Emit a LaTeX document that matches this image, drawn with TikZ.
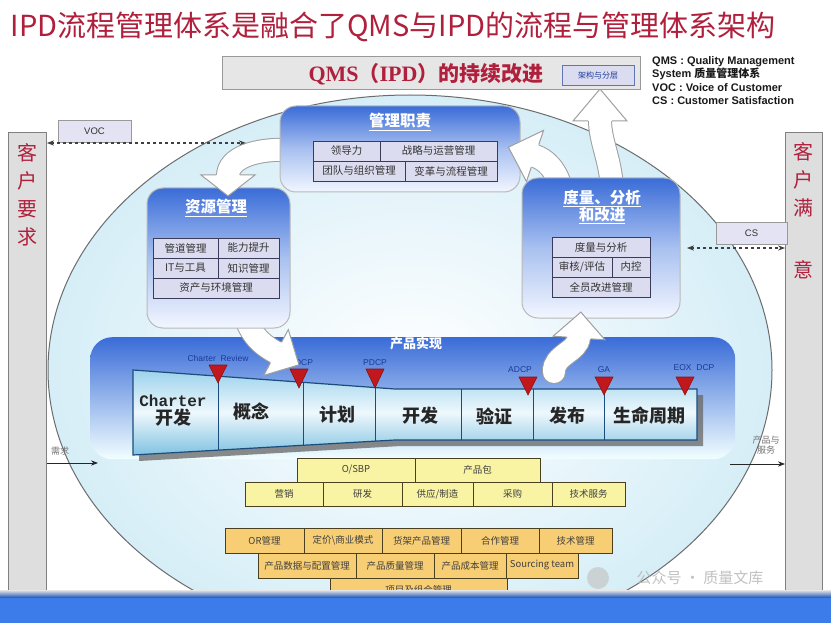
\documentclass[tikz,border=0pt]{standalone}
\usepackage{fontspec}
\setmainfont{Liberation Sans}
\newfontfamily\cjk{Noto Sans CJK SC}
\newfontfamily\monof{Liberation Mono}
\newfontfamily\seriff{Liberation Serif}
\usetikzlibrary{arrows.meta,shapes.geometric}
\definecolor{tred}{HTML}{B0203C}
\definecolor{bannerbg}{HTML}{E6E6E6}
\definecolor{bblue}{HTML}{3A6CD8}
\definecolor{bmid}{HTML}{A9C1F0}
\definecolor{bwhite}{HTML}{F2F6FF}
\definecolor{cellbg}{HTML}{DCDCF0}
\definecolor{celldraw}{HTML}{3A3A5A}
\definecolor{ellout}{HTML}{D6EEF7}
\definecolor{stripT}{HTML}{9CD2EC}
\definecolor{stripM}{HTML}{EEF8FC}
\definecolor{stripB}{HTML}{80C2E2}
\definecolor{stripD}{HTML}{1C4C7C}
\definecolor{tri}{HTML}{C0181C}
\definecolor{ylw}{HTML}{F8F4A4}
\definecolor{org}{HTML}{F8CE74}
\definecolor{boxdraw}{HTML}{4A4020}
\definecolor{barbg}{HTML}{DEDEDE}
\definecolor{labblue}{HTML}{1A3A9A}
\definecolor{botblue}{HTML}{3C7CEA}
\newcommand\blkbody[1]{\draw[line width=24pt, gray!75, line cap=round] #1; \draw[line width=22pt, white, line cap=round] #1;}
\tikzset{
  bluebox/.style={draw=gray!55, line width=1pt, rounded corners=16pt, top color=bblue, bottom color=bwhite, middle color=bmid, inner sep=0pt},
  boxtitle/.style={font=\cjk\bfseries\fontsize{15.5}{18}\selectfont, text=white, align=center},
  cell/.style={draw=celldraw, fill=cellbg, line width=0.8pt, inner sep=0pt, font=\cjk\fontsize{10.5}{12}\selectfont, text=black!80},
  ybox/.style={draw=boxdraw, fill=ylw, line width=0.8pt, inner sep=0pt, font=\cjk\fontsize{9.5}{11}\selectfont, text=black!75},
  obox/.style={draw=boxdraw, fill=org, line width=0.8pt, inner sep=0pt, font=\cjk\fontsize{9.5}{11}\selectfont, text=black!75},
  stage/.style={font=\cjk\bfseries\fontsize{18}{20}\selectfont, text=black!85, align=center},
  gate/.style={fill=tri, draw=tri!70!black, line width=0.6pt},
  gatelab/.style={font=\fontsize{8.5}{9}\selectfont, text=labblue},
  sidebar/.style={draw=gray, fill=barbg, line width=1pt, anchor=north west, inner sep=0pt},
  barchar/.style={font=\cjk\fontsize{20}{22}\selectfont, text=tred},
  smallbox/.style={draw=gray!80, fill=cellbg!80, line width=0.8pt, inner sep=0pt, font=\fontsize{9.5}{10}\selectfont, text=black!80},
  dashar/.style={dashed, line width=1.2pt, black!75, {Stealth[length=7pt]}-{Stealth[length=7pt]}},
  blkhead/.style={fill=white, draw=gray!75, line width=1pt, line join=miter},
  flowar/.style={line width=0.9pt, black!85, -{Stealth[length=7pt]}},
  smalllab/.style={font=\cjk\fontsize{9}{10.5}\selectfont, text=black!55, align=center}
}
\begin{document}
\begin{tikzpicture}[x=1pt,y=-1pt]
\useasboundingbox (0,0) rectangle (831,623);
\clip (0,0) rectangle (831,623);
\fill[white] (0,0) rectangle (831,623);

% title
\node[font=\cjk\fontsize{29}{32}\selectfont, text=tred, inner sep=0pt] (title) at (393,27) {IPD流程管理体系是融合了QMS与IPD的流程与管理体系架构};

% big ellipse
\node[ellipse, draw=gray!85!black, line width=1pt, inner color=white, outer color=ellout, minimum width=724pt, minimum height=550pt, inner sep=0pt] (scope) at (410,370) {};

% side bars
\node[sidebar, minimum width=38pt, minimum height=460pt] (lbar) at (8,132) {};
\node[sidebar, minimum width=37pt, minimum height=460pt] (rbar) at (785,132) {};
\node[barchar] (l1) at (27,153) {客};
\node[barchar] (l2) at (27,181) {户};
\node[barchar] (l3) at (27,209) {要};
\node[barchar] (l4) at (27,237) {求};
\node[barchar] (r1) at (803.5,152) {客};
\node[barchar] (r2) at (803.5,180) {户};
\node[barchar] (r3) at (803.5,208) {满};
\node[barchar] (r4) at (803.5,270) {意};

% VOC / CS
\node[smallbox, minimum width=73pt, minimum height=22pt] (voc) at (94.5,131) {VOC};
\coordinate (vocend) at (246,143);
\draw[dashar] (lbar.east |- vocend) -- (vocend);
\node[smallbox, minimum width=71pt, minimum height=22pt] (cs) at (751.5,233) {CS};
\coordinate (csend) at (687,248);
\draw[dashar] (csend) -- (rbar.west |- csend);

% product realisation band
\node[draw=none, rounded corners=22pt, top color=bblue, middle color=bmid!80, bottom color=white!95!cyan, minimum width=645pt, minimum height=122pt, anchor=north west, inner sep=0pt] (band) at (90,337) {};
\node[font=\cjk\bfseries\fontsize{13}{15}\selectfont, text=white] (bandtitle) at (416,344) {产品实现};

% stage strip
\fill[black!60, opacity=0.75] (139,376) -- (401,395) -- (703,395) -- (703,446) -- (401,446) -- (139,461) -- cycle;
\draw[stripD, line width=1.2pt, top color=stripT, bottom color=stripB, middle color=stripM] (133,370) -- (395,389) -- (697,389) -- (697,440) -- (395,440) -- (133,455) -- cycle;
\draw[stripD, line width=1pt] (218,376.2) -- (218,450.1);
\draw[stripD, line width=1pt] (303,382.3) -- (303,445.3);
\draw[stripD, line width=1pt] (375,387.5) -- (375,441.1);
\draw[stripD, line width=1pt] (461,389) -- (461,440);
\draw[stripD, line width=1pt] (533,389) -- (533,440);
\draw[stripD, line width=1pt] (604,389) -- (604,440);

\node[stage] (s1) at (173,411) {{\monof\bfseries\fontsize{16}{17}\selectfont Charter}\\[-2pt]开发};
\node[stage] (s2) at (251,412) {概念};
\node[stage] (s3) at (337,415) {计划};
\node[stage] (s4) at (420,416) {开发};
\node[stage] (s5) at (494,416) {验证};
\node[stage] (s6) at (567,416) {发布};
\node[stage] (s7) at (649,416) {生命周期};

% gates
\filldraw[gate] (209,365) -- (227,365) -- (218,383) -- cycle;
\filldraw[gate] (290,369) -- (308,369) -- (299,388) -- cycle;
\filldraw[gate] (366,369) -- (384,369) -- (375,388) -- cycle;
\filldraw[gate] (519,377) -- (537,377) -- (528,395) -- cycle;
\filldraw[gate] (595,377) -- (613,377) -- (604,395) -- cycle;
\filldraw[gate] (676,377) -- (694,377) -- (685,395) -- cycle;
\node[gatelab] (g1) at (218,358) {Charter\ \ Review};
\node[gatelab] (g2) at (301,363) {CDCP};
\node[gatelab] (g3) at (375,363) {PDCP};
\node[gatelab] (g4) at (520,370) {ADCP};
\node[gatelab] (g5) at (604,370) {GA};
\node[gatelab] (g6) at (694,368) {EOX\ \ DCP};

% arrow B (resource -> product)
\blkbody{(244,312) .. controls (250,335) and (262,345) .. (277,353)}
\filldraw[blkhead] (270.3,363.1) -- (263.7,375.4) -- (298.9,364.8) -- (288.3,329.6) -- (281.7,341.9);

% resource box
\node[bluebox, minimum width=143pt, minimum height=140pt] (res) at (218.5,258) {};
\node[boxtitle] (restitle) at (216,208) {\underline{资源管理}};
\node[cell, minimum width=65pt, minimum height=20pt] (r11) at (185.5,248) {管道管理};
\node[cell, minimum width=61pt, minimum height=20pt] (r12) at (248.5,248) {能力提升};
\node[cell, minimum width=65pt, minimum height=20pt] (r21) at (185.5,268) {IT与工具};
\node[cell, minimum width=61pt, minimum height=20pt] (r22) at (248.5,268) {知识管理};
\node[cell, minimum width=126pt, minimum height=20pt] (r31) at (216,288) {资产与环境管理};

% arrow A (management -> resource)
\blkbody{(292,150) .. controls (255,148) and (228,158) .. (228,176)}
\filldraw[blkhead] (216,175) -- (201,175) -- (228,196) -- (255,175) -- (240,175);

% management box
\node[bluebox, minimum width=240pt, minimum height=86pt] (mgmt) at (400,149) {};
\node[boxtitle] (mgmttitle) at (400,122) {\underline{管理职责}};
\node[cell, minimum width=67pt, minimum height=20pt] (m11) at (346.5,151) {领导力};
\node[cell, minimum width=117pt, minimum height=20pt] (m12) at (438.5,151) {战略与运营管理};
\node[cell, minimum width=92pt, minimum height=20pt] (m21) at (359,171) {团队与组织管理};
\node[cell, minimum width=92pt, minimum height=20pt] (m22) at (451,171) {变革与流程管理};

% arrow D (measure -> management)
\blkbody{(562,190) .. controls (556,170) and (547,160) .. (534,155.6)}
\filldraw[blkhead] (538.8,144.6) -- (543.5,130.4) -- (508.4,147.2) -- (526.5,181.6) -- (531.2,167.4);

% arrow E (measure -> top)
\blkbody{(612,190) .. controls (611,160) and (600,142) .. (600,120)}
\filldraw[blkhead] (588,121) -- (573,121) -- (600,89) -- (627,121) -- (612,121);

% measurement box
\node[bluebox, minimum width=158pt, minimum height=140pt] (meas) at (601,248) {};
\node[boxtitle] (meastitle) at (602,207) {\underline{度量、分析}\\[-1pt]\underline{和改进}};
\node[cell, minimum width=98pt, minimum height=20pt] (d1) at (601,247) {度量与分析};
\node[cell, minimum width=60pt, minimum height=20pt] (d21) at (582,267) {审核/评估};
\node[cell, minimum width=38pt, minimum height=20pt] (d22) at (631,267) {内控};
\node[cell, minimum width=98pt, minimum height=20pt] (d3) at (601,287) {全员改进管理};

% arrow C (product -> measure)
\blkbody{(554,372) .. controls (553,355) and (578,352) .. (579,337)}
\filldraw[blkhead] (567,337.1) -- (553.1,336.2) -- (580.8,312.1) -- (604.9,339.8) -- (591,338.9);

% banner
\node[draw=gray!80, fill=bannerbg, line width=1pt, minimum width=418pt, minimum height=33pt, inner sep=0pt] (banner) at (431,73.5) {};
\node[text=tred, inner sep=0pt] (bannertext) at (426,74) {{\seriff\bfseries\fontsize{22}{24}\selectfont QMS}{\cjk\bfseries\fontsize{21}{24}\selectfont （}{\seriff\bfseries\fontsize{22}{24}\selectfont IPD}{\cjk\bfseries\fontsize{21}{24}\selectfont ）的持续改进}};
\node[draw=labblue!70, fill=cellbg, line width=0.8pt, minimum width=72pt, minimum height=20pt, inner sep=0pt, font=\cjk\fontsize{8}{9}\selectfont, text=labblue] (layer) at (598,75) {架构与分层};

% legend
\node[anchor=north west, align=left, inner sep=0pt, font=\bfseries\fontsize{11}{13.5}\selectfont, text=black!90] (legend) at (652,56) {QMS : Quality Management\\System {\cjk\bfseries 质量管理体系}\\VOC : Voice of Customer\\CS : Customer Satisfaction};

% input / output arrows
\coordinate (inend) at (98,463);
\draw[flowar] (lbar.east |- inend) -- (inend);
\node[smalllab] (inlab) at (60,451) {需求};
\coordinate (outstart) at (730,464);
\draw[flowar] (outstart) -- (rbar.west |- outstart);
\node[smalllab] (outlab) at (766,445) {产品与\\服务};

% yellow boxes
\node[ybox, minimum width=118pt, minimum height=24pt] (y1) at (356,470) {O/SBP};
\node[ybox, minimum width=125pt, minimum height=24pt] (y2) at (477.5,470) {产品包};
\node[ybox, minimum width=78pt, minimum height=24pt] (y3) at (284,494) {营销};
\node[ybox, minimum width=79pt, minimum height=24pt] (y4) at (362.5,494) {研发};
\node[ybox, minimum width=71pt, minimum height=24pt] (y5) at (437.5,494) {供应/制造};
\node[ybox, minimum width=79pt, minimum height=24pt] (y6) at (512.5,494) {采购};
\node[ybox, minimum width=73pt, minimum height=24pt] (y7) at (588.5,494) {技术服务};

% orange boxes
\node[obox, minimum width=79pt, minimum height=25pt] (o1) at (264.5,540.5) {OR管理};
\node[obox, minimum width=78pt, minimum height=25pt] (o2) at (343,540.5) {定价{\textbackslash}商业模式};
\node[obox, minimum width=79pt, minimum height=25pt] (o3) at (421.5,540.5) {货架产品管理};
\node[obox, minimum width=78pt, minimum height=25pt] (o4) at (500,540.5) {合作管理};
\node[obox, minimum width=73pt, minimum height=25pt] (o5) at (575.5,540.5) {技术管理};
\node[obox, minimum width=98pt, minimum height=25pt] (o6) at (307,565.5) {产品数据与配置管理};
\node[obox, minimum width=78pt, minimum height=25pt] (o7) at (395,565.5) {产品质量管理};
\node[obox, minimum width=72pt, minimum height=25pt] (o8) at (470,565.5) {产品成本管理};
\node[obox, minimum width=72pt, minimum height=25pt] (o9) at (542,565.5) {Sourcing team};
\node[obox, minimum width=177pt, minimum height=25pt] (o10) at (418.5,590.5) {};
\node[font=\cjk\fontsize{9.5}{11}\selectfont, text=black!75] (o10t) at (418.5,590) {项目及组合管理};

% watermark
\fill[gray!45, opacity=0.7] (598,578) circle[radius=11pt];
\node[font=\cjk\fontsize{15}{17}\selectfont, text=gray!60, opacity=0.8] (wm) at (700,578) {公众号 · 质量文库};

% bottom bar
\fill[botblue] (0,594) rectangle (831,623);
\shade[top color=gray!20, bottom color=botblue!80!black] (0,590) rectangle (831,597);
\end{tikzpicture}
\end{document}
